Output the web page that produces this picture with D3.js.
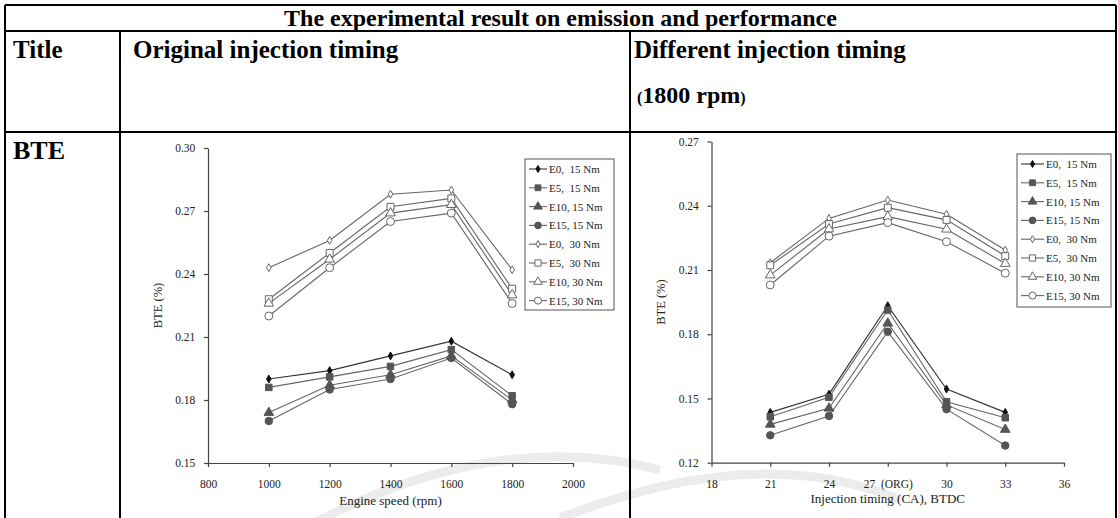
<!DOCTYPE html>
<html><head><meta charset="utf-8">
<script src="https://cdn.jsdelivr.net/npm/d3@7"></script>
<style>
html,body{margin:0;padding:0;background:#fff;}
svg{display:block;}
</style></head>
<body>
<script>
// ---- data ----
const seriesNames = ["E0,  15 Nm","E5,  15 Nm","E10, 15 Nm","E15, 15 Nm","E0,  30 Nm","E5,  30 Nm","E10, 30 Nm","E15, 30 Nm"];
const speedX = [1000,1200,1400,1600,1800];
const leftE0_15  = [0.190,0.194,0.201,0.208,0.192];
const leftE5_15  = [0.186,0.191,0.196,0.204,0.182];
const leftE10_15 = [0.174,0.187,0.192,0.201,0.180];
const leftE15_15 = [0.170,0.185,0.190,0.200,0.178];
const leftE0_30  = [0.243,0.256,0.278,0.280,0.242];
const leftE5_30  = [0.228,0.250,0.272,0.276,0.233];
const leftE10_30 = [0.226,0.247,0.269,0.273,0.230];
const leftE15_30 = [0.220,0.243,0.265,0.269,0.226];

const timingX = [21,24,27,30,33];
const rightE0_15  = [0.1435,0.1520,0.1933,0.1544,0.1435];
const rightE5_15  = [0.1415,0.1505,0.1913,0.1485,0.1410];
const rightE10_15 = [0.1379,0.1454,0.1851,0.1470,0.1355];
const rightE15_15 = [0.1328,0.1418,0.1812,0.1450,0.1280];
const rightE0_30  = [0.2134,0.2341,0.2427,0.2360,0.2193];
const rightE5_30  = [0.2122,0.2315,0.2391,0.2334,0.2165];
const rightE10_30 = [0.2076,0.2291,0.2349,0.2290,0.2130];
const rightE15_30 = [0.2030,0.2258,0.2321,0.2232,0.2085];

const leftXTicks = [800,1000,1200,1400,1600,1800,2000];
const leftYTicks = [0.15,0.18,0.21,0.24,0.27,0.30];
const rightXTicks = [18,21,24,27,30,33,36];
const rightXTickLabels = ["18","21","24","27  (ORG)","30","33","36"];
const rightYTicks = [0.12,0.15,0.18,0.21,0.24,0.27];

const tableTitle = "The experimental result on emission and performance";
const colHeads = ["Title","Original injection timing","Different injection timing"];
const rowHead = "BTE";

// ---- drawing ----
const W = 1118, H = 518;
const svg = d3.select("body").append("svg").attr("width", W).attr("height", H);
const serif = "'Liberation Serif','Times New Roman',serif";

// faint watermark arcs
const wm = svg.append("g").attr("fill","none").attr("stroke","#ececec").attr("stroke-width",9);
wm.append("path").attr("d","M 250 560 Q 470 420 660 470");
wm.append("path").attr("d","M 560 518 Q 760 440 900 500");

const markerStyles = [
  {sym:d3.symbolDiamond, size:18, fill:"#111", stroke:"#111"},
  {sym:d3.symbolSquare,  size:42, fill:"#555", stroke:"#555"},
  {sym:d3.symbolTriangle,size:40, fill:"#555", stroke:"#555"},
  {sym:d3.symbolCircle,  size:44, fill:"#555", stroke:"#555"},
  {sym:d3.symbolDiamond, size:18, fill:"#fff", stroke:"#666"},
  {sym:d3.symbolSquare,  size:48, fill:"#fff", stroke:"#666"},
  {sym:d3.symbolTriangle,size:40, fill:"#fff", stroke:"#666"},
  {sym:d3.symbolCircle,  size:50, fill:"#fff", stroke:"#666"}
];

function drawChart(cfg){
  const g = svg.append("g");
  const x = d3.scaleLinear().domain(cfg.xDomain).range(cfg.xRange);
  const y = d3.scaleLinear().domain(cfg.yDomain).range(cfg.yRange);
  const xa = g.append("g").attr("transform",`translate(0,${cfg.yRange[0]})`)
    .call(d3.axisBottom(x).tickValues(cfg.xTicks).tickSize(4).tickSizeOuter(0)
      .tickFormat((d,i)=>cfg.xLabels?cfg.xLabels[i]:d));
  const ya = g.append("g").attr("transform",`translate(${cfg.xRange[0]},0)`)
    .call(d3.axisLeft(y).tickValues(cfg.yTicks).tickSize(4).tickSizeOuter(0).tickFormat(d3.format(".2f")));
  [xa,ya].forEach(a=>{
    a.select(".domain").attr("stroke","#444").attr("stroke-width",1.2);
    a.selectAll(".tick line").attr("stroke","#444").attr("stroke-width",1.2);
    a.selectAll("text").attr("font-family",serif).attr("font-size",11.5).attr("fill","#222");
  });
  xa.selectAll("text").attr("dy","1.6em").style("white-space","pre");
  ya.selectAll("text").attr("dx","-0.5em");
  g.append("text").attr("x",(cfg.xRange[0]+cfg.xRange[1])/2).attr("y",cfg.xTitleY)
    .attr("text-anchor","middle").attr("font-family",serif).attr("font-size",13).attr("fill","#222")
    .text(cfg.xTitle);
  g.append("text").attr("transform",`translate(${cfg.yTitleX},${(cfg.yRange[0]+cfg.yRange[1])/2}) rotate(-90)`)
    .attr("text-anchor","middle").attr("font-family",serif).attr("font-size",12.5).attr("fill","#222")
    .text("BTE (%)");
  const line = d3.line().x((d,i)=>x(cfg.xs[i])).y(d=>y(d));
  cfg.series.forEach((s,k)=>{
    g.append("path").attr("d",line(s)).attr("fill","none")
      .attr("stroke", k===0?"#333":"#666").attr("stroke-width",1.1);
  });
  cfg.series.forEach((s,k)=>{
    const m = markerStyles[k];
    g.selectAll(null).data(s).enter().append("path")
      .attr("d",d3.symbol().type(m.sym).size(m.size)())
      .attr("transform",(d,i)=>`translate(${x(cfg.xs[i])},${y(d)})`)
      .attr("fill",m.fill).attr("stroke",m.stroke).attr("stroke-width",1);
  });
  // legend
  const L = cfg.legend;
  const lg = g.append("g");
  lg.append("rect").attr("x",L.x).attr("y",L.y).attr("width",L.w).attr("height",L.h)
    .attr("fill","#fff").attr("stroke","#555").attr("stroke-width",1);
  seriesNames.forEach((n,k)=>{
    const cy = L.y + 10 + k*18.8;
    const m = markerStyles[k];
    lg.append("line").attr("x1",L.x+4).attr("x2",L.x+L.line).attr("y1",cy).attr("y2",cy)
      .attr("stroke",k===0?"#333":"#666").attr("stroke-width",1.1);
    lg.append("path").attr("d",d3.symbol().type(m.sym).size(m.size*0.8)())
      .attr("transform",`translate(${L.x+4+(L.line-4)/2},${cy})`)
      .attr("fill",m.fill).attr("stroke",m.stroke);
    lg.append("text").attr("x",L.x+L.line+2).attr("y",cy+4)
      .attr("font-family",serif).attr("font-size",11).attr("fill","#222")
      .style("white-space","pre").text(n);
  });
}

drawChart({
  xDomain:[800,2000], xRange:[208,573], yDomain:[0.15,0.30], yRange:[463,148],
  xTicks:leftXTicks, yTicks:leftYTicks, xs:speedX,
  series:[leftE0_15,leftE5_15,leftE10_15,leftE15_15,leftE0_30,leftE5_30,leftE10_30,leftE15_30],
  xTitle:"Engine speed (rpm)", xTitleY:505, yTitleX:162,
  legend:{x:525,y:159,w:89,h:151,line:22}
});
drawChart({
  xDomain:[18,36], xRange:[711.5,1064], yDomain:[0.12,0.27], yRange:[462.7,141.5],
  xTicks:rightXTicks, xLabels:rightXTickLabels, yTicks:rightYTicks, xs:timingX,
  series:[rightE0_15,rightE5_15,rightE10_15,rightE15_15,rightE0_30,rightE5_30,rightE10_30,rightE15_30],
  xTitle:"Injection timing (CA), BTDC", xTitleY:503, yTitleX:665,
  legend:{x:1017,y:154,w:94,h:153,line:27}
});

// ---- table ----
const T = svg.append("g").attr("stroke","#000").attr("stroke-width",2);
const tl=5, tr=1116, tt=5, r1=31, r2=132, c1=120, c2=630;
T.append("line").attr("x1",tl).attr("x2",tr).attr("y1",tt).attr("y2",tt);
T.append("line").attr("x1",tl).attr("x2",tr).attr("y1",r1).attr("y2",r1);
T.append("line").attr("x1",tl).attr("x2",tr).attr("y1",r2).attr("y2",r2);
T.append("line").attr("x1",tl).attr("x2",tl).attr("y1",tt).attr("y2",H);
T.append("line").attr("x1",tr).attr("x2",tr).attr("y1",tt).attr("y2",H);
T.append("line").attr("x1",c1).attr("x2",c1).attr("y1",r1).attr("y2",H);
T.append("line").attr("x1",c2).attr("x2",c2).attr("y1",r1).attr("y2",H);

const tx = svg.append("g").attr("font-family",serif).attr("font-weight","bold").attr("fill","#000");
tx.append("text").attr("x",(tl+tr)/2).attr("y",26).attr("text-anchor","middle").attr("font-size",24).text(tableTitle);
tx.append("text").attr("x",13).attr("y",58).attr("font-size",25).text(colHeads[0]);
tx.append("text").attr("x",133).attr("y",58).attr("font-size",25).text(colHeads[1]);
tx.append("text").attr("x",634).attr("y",58).attr("font-size",25).text(colHeads[2]);
const sub = tx.append("text").attr("x",637).attr("y",103).attr("font-size",24);
sub.append("tspan").attr("font-size",16).text("(");
sub.append("tspan").text("1800 rpm");
sub.append("tspan").attr("font-size",16).text(")");
tx.append("text").attr("x",13).attr("y",159).attr("font-size",26).text(rowHead);
</script>
</body></html>
